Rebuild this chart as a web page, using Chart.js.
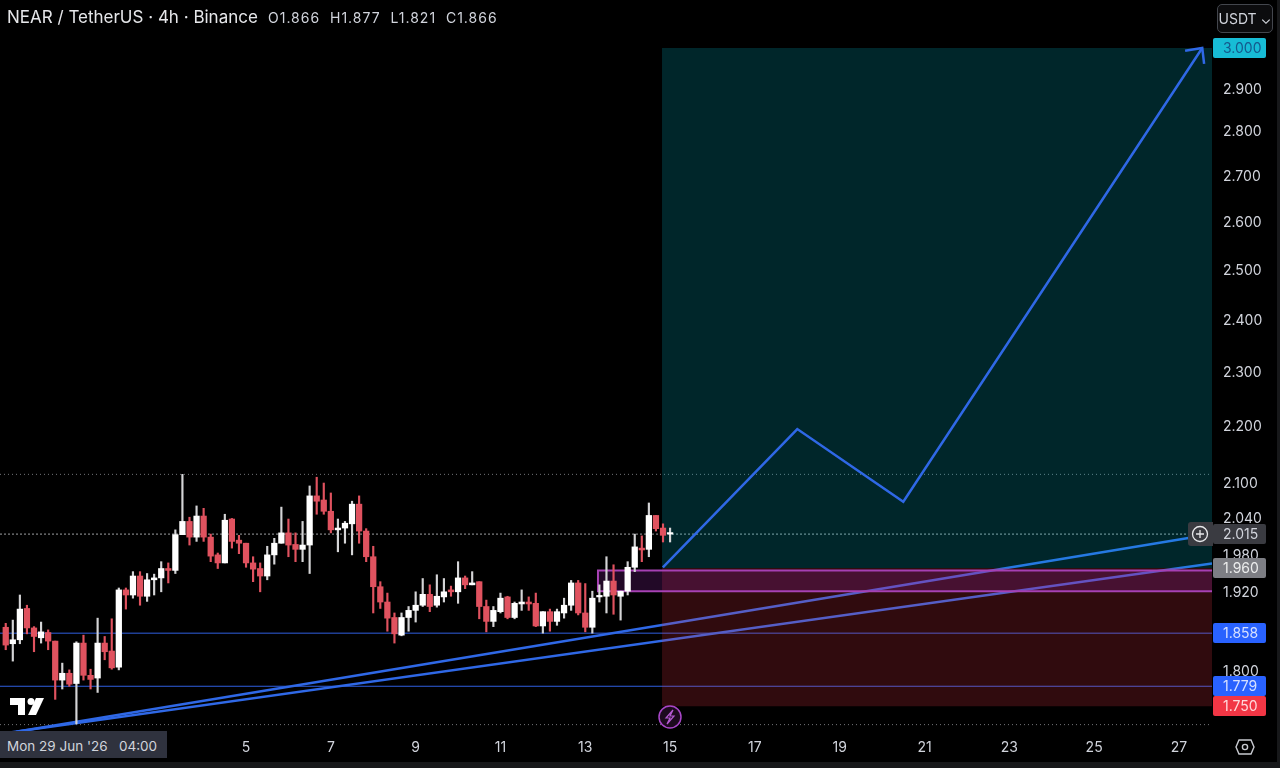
<!DOCTYPE html>
<html>
<head>
<meta charset="utf-8">
<title>NEAR / TetherUS</title>
<script src="https://cdn.jsdelivr.net/npm/chart.js@4/dist/chart.umd.js"></script>
<style>
  html, body { margin: 0; padding: 0; background: #17181a; width: 1280px; height: 768px; overflow: hidden; }
  body { position: relative; font-family: Inter, "Noto Sans", sans-serif; color: #d1d4dc; }
  #chart { position: absolute; left: 0; top: 0; background: #000; }
  .abs { position: absolute; white-space: pre; }
  #title { left: 7px; top: 7px; font-size: 17px; line-height: 21px; color: #e6e7ea; }
  #ohlc { left: 268px; top: 8px; font-size: 14px; line-height: 20px; letter-spacing: 1px; color: #d1d4dc; }
  #unit { left: 1217px; top: 4px; width: 54px; height: 27px; border: 1px solid #43464d; border-radius: 5px; background: #0c0c0e;
          font-size: 14px; line-height: 27px; text-align: center; }
  #cross { left: 0; top: 731px; width: 167px; height: 27px; background: #2f323e; font-size: 13.5px; line-height: 31px; text-indent: 7px; color: #d1d4dc; }
</style>
</head>
<body>
<canvas id="chart" width="1277" height="762"></canvas>
<div class="abs" id="title">NEAR / TetherUS · 4h · Binance</div>
<div class="abs" id="ohlc">O1.866  H1.877  L1.821  C1.866</div>
<div class="abs" id="unit">USDT ⌄</div>
<div class="abs" id="cross">Mon 29 Jun '26   04:00</div>
<!-- logo, lightning and settings icons -->
<svg class="abs" style="left:0;top:0" width="1280" height="768" fill="none">
  <path d="M10 698H25V715H18V705H10Z" fill="#fff"/>
  <circle cx="31" cy="701.5" r="3.5" fill="#fff"/>
  <path d="M36 698H44L36 715H28Z" fill="#fff"/>
  <circle cx="670" cy="717" r="11" stroke="#a846c8" stroke-width="1.5" fill="#1c0a1e"/>
  <path d="M673 710L666 718H670L667 724L674 716H670Z" stroke="#b45ad2" stroke-width="1.2"/>
  <path d="M1239 740H1251L1254 747L1251 754H1239L1236 747Z" stroke="#c8cad0" stroke-width="1.4"/>
  <circle cx="1245" cy="747" r="2.6" stroke="#c8cad0" stroke-width="1.4"/>
</svg>
<script>
// Candles, oldest first (4h bars, the last one sits on the 15th)
const opens  = [1.867,1.842,1.848,1.896,1.866,1.851,1.859,1.846,1.788,1.798,1.783,1.843,1.795,1.791,1.843,1.831,1.807,1.925,1.917,1.947,1.915,1.941,1.944,1.959,1.956,2.014,2.036,2.010,2.045,2.010,1.981,1.968,2.040,2.005,2.000,1.968,1.959,1.947,1.981,2.000,2.017,1.998,1.990,1.997,2.079,2.072,2.053,2.022,
                2.025,2.032,2.065,2.020,1.978,1.930,1.906,1.882,1.855,1.882,1.893,1.901,1.918,1.901,1.914,1.925,1.922,1.944,1.933,1.938,1.899,1.876,1.891,1.914,1.882,1.903,1.906,1.904,1.869,1.891,1.876,1.889,1.901,1.936,1.889,1.867,1.914,1.915,1.939,1.915,1.923,1.961,1.992,1.990,2.046,2.025,2.015];
const highs  = [1.873,1.878,1.917,1.901,1.868,1.875,1.863,1.846,1.813,1.803,1.845,1.855,1.804,1.881,1.853,1.880,1.928,1.928,1.954,1.954,1.951,1.950,1.970,1.968,2.022,2.116,2.043,2.062,2.058,2.015,1.984,2.048,2.041,2.013,2.000,1.978,1.968,1.995,2.008,2.060,2.040,2.017,2.036,2.096,2.111,2.101,2.084,2.040,
                2.036,2.070,2.079,2.024,1.995,1.938,1.920,1.889,1.889,1.899,1.922,1.943,1.933,1.949,1.943,1.931,1.970,1.947,1.954,1.938,1.909,1.899,1.920,1.915,1.906,1.925,1.914,1.920,1.891,1.895,1.895,1.912,1.940,1.940,1.935,1.923,1.933,1.978,1.965,1.923,1.970,2.015,2.012,2.067,2.046,2.032,2.025];
const lows   = [1.833,1.816,1.842,1.857,1.830,1.843,1.833,1.760,1.775,1.779,1.725,1.788,1.775,1.770,1.818,1.804,1.803,1.895,1.912,1.901,1.907,1.917,1.922,1.936,1.951,2.014,1.997,2.003,2.003,1.970,1.959,1.968,1.992,1.983,1.961,1.938,1.922,1.941,1.966,2.000,1.978,1.970,1.970,1.951,2.048,2.048,2.017,1.986,
                2.000,1.981,2.000,1.970,1.889,1.896,1.861,1.843,1.854,1.861,1.875,1.899,1.891,1.898,1.906,1.915,1.904,1.927,1.933,1.880,1.860,1.868,1.889,1.880,1.880,1.893,1.893,1.868,1.858,1.861,1.870,1.881,1.893,1.886,1.860,1.858,1.906,1.889,1.887,1.878,1.917,1.954,1.970,1.978,2.020,2.002,2.002];
const closes = [1.840,1.848,1.895,1.866,1.853,1.860,1.846,1.788,1.798,1.782,1.843,1.795,1.789,1.843,1.830,1.806,1.925,1.917,1.947,1.915,1.941,1.944,1.959,1.956,2.014,2.036,2.010,2.045,2.010,1.979,1.968,2.038,2.003,2.000,1.968,1.958,1.947,1.981,2.000,2.017,1.997,1.990,1.997,2.079,2.070,2.053,2.022,2.025,
                2.033,2.065,2.020,1.978,1.930,1.906,1.881,1.857,1.882,1.893,1.901,1.918,1.899,1.915,1.922,1.922,1.944,1.933,1.936,1.899,1.876,1.893,1.912,1.882,1.904,1.906,1.903,1.869,1.891,1.876,1.891,1.901,1.936,1.889,1.867,1.912,1.915,1.939,1.917,1.923,1.961,1.994,1.989,2.046,2.024,2.013,2.017];

// Axis labels
const dayTicks = [5, 7, 9, 11, 13, 15, 17, 19, 21, 23, 25, 27];
const priceTicks = [2.9, 2.8, 2.7, 2.6, 2.5, 2.4, 2.3, 2.2, 2.1, 2.04, 1.98, 1.92, 1.8];

// Price levels and drawings, x in days of the month, y in USDT
const sessionHigh = 2.116, sessionLow = 1.724, lastPrice = 2.015;
const support1 = 1.858, support2 = 1.779;
const trendA = [[-0.42, 1.714], [27.26, 2.009]];
const trendB = [[-0.566, 1.713], [27.78, 1.967]];
const projection = [[14.83, 1.961], [18.0, 2.196], [20.5, 2.069], [27.55, 3.0]];
const arrowHead = [[27.146, 2.993], [27.55, 3.0], [27.594, 2.961]];
const target = 3.0, entry = 1.96, stop = 1.75, boxStart = 14.81;
const zoneTop = 1.956, zoneBottom = 1.923, zoneStart = 13.3;

// Tags on the price axis
const tagValues = [3.0, 2.015, 1.96, 1.858, 1.779, 1.75];
const tagColors = ['#17bcd6', '#3a3b41', '#7d7e84', '#2962ff', '#2962ff', '#f23645'];
const tagTexts  = ['#14598c', '#d1d4dc', '#eceded', '#d6e0ff', '#d6e0ff', '#ffd9dc'];

const xMin = -0.802, xMax = 27.78;
const yMin = 1.7122, yMax = 3.1201;
const candleDays = opens.map((_, i) => 15 - (opens.length - 1 - i) / 6);
const toPoints = pts => pts.map(p => ({ x: p[0], y: p[1] }));
const level = v => [{ x: xMin, y: v }, { x: xMax, y: v }];

function lineSet(data, color, width, order, dash) {
  return { type: 'line', data, borderColor: color, borderWidth: width, borderDash: dash || [],
           pointRadius: 0, fill: false, tension: 0, order };
}
function boxSet(x0, top, bottom, color, order) {
  return { type: 'line', data: [{ x: x0, y: top }, { x: xMax, y: top }], borderWidth: 0, borderColor: 'transparent',
           backgroundColor: color, pointRadius: 0, fill: { value: bottom }, order };
}

// Price tags and the + button, over the axis labels
const priceTags = {
  id: 'priceTags',
  afterDraw(chart) {
    const { ctx } = chart;
    const y = chart.scales.y;
    ctx.save();
    ctx.font = '14px Inter, "Noto Sans", sans-serif';
    ctx.textBaseline = 'middle';
    tagValues.forEach((v, i) => {
      const py = Math.round(y.getPixelForValue(v));
      ctx.fillStyle = tagColors[i];
      ctx.beginPath();
      ctx.roundRect(1213, py - 10, 53, 20, 2);
      ctx.fill();
      ctx.fillStyle = tagTexts[i];
      ctx.textAlign = 'left';
      ctx.fillText(v.toFixed(3), 1223, py + 0.5);
    });
    // + button on the last price line
    const py = Math.round(y.getPixelForValue(lastPrice));
    ctx.fillStyle = '#3a3b41';
    ctx.beginPath();
    ctx.roundRect(1188, py - 12, 25, 24, [3, 0, 0, 3]);
    ctx.fill();
    ctx.strokeStyle = '#e8e9ec';
    ctx.lineWidth = 1.3;
    ctx.beginPath();
    ctx.arc(1200, py, 7.5, 0, Math.PI * 2);
    ctx.moveTo(1196, py); ctx.lineTo(1204, py);
    ctx.moveTo(1200, py - 4); ctx.lineTo(1200, py + 4);
    ctx.stroke();
    ctx.restore();
  }
};

new Chart(document.getElementById('chart').getContext('2d'), {
  type: 'bar',
  data: {
    datasets: [
      // bodies, then wicks, on top of everything but the projection
      { type: 'bar', data: candleDays.map((d, i) => ({ x: d, y: [opens[i], closes[i]] })),
        backgroundColor: closes.map((c, i) => c >= opens[i] ? '#ffffff' : '#e0525f'),
        barThickness: 5.6, minBarLength: 1.5, grouped: false, order: 2 },
      { type: 'bar', data: candleDays.map((d, i) => ({ x: d, y: [lows[i], highs[i]] })),
        backgroundColor: closes.map((c, i) => c >= opens[i] ? '#d4d4d6' : '#e0525f'),
        barThickness: 1.5, grouped: false, order: 3 },
      lineSet(toPoints(projection), '#2f68e6', 2.5, 1),
      lineSet(toPoints(arrowHead), '#2f68e6', 2.5, 1),
      boxSet(zoneStart, zoneTop, zoneBottom, 'rgba(156, 39, 176, 0.22)', 4),
      lineSet([{ x: xMax, y: zoneTop }, { x: zoneStart, y: zoneTop }, { x: zoneStart, y: zoneBottom }, { x: xMax, y: zoneBottom }], '#a844b4', 2, 4),
      boxSet(boxStart, target, entry, 'rgba(0, 188, 212, 0.2)', 5),
      boxSet(boxStart, entry, stop, 'rgba(242, 54, 69, 0.2)', 5),
      lineSet(toPoints(trendA), '#2f68e6', 2.5, 6),
      lineSet(toPoints(trendB), '#2f68e6', 2.5, 6),
      lineSet(level(support1), '#2f5fe0', 1, 6),
      lineSet(level(support2), '#2f5fe0', 1, 6),
      lineSet(level(sessionHigh), 'rgba(210, 212, 220, 0.55)', 1, 7, [1, 3]),
      lineSet(level(sessionLow), 'rgba(210, 212, 220, 0.55)', 1, 7, [1, 3]),
      lineSet(level(lastPrice), 'rgba(225, 226, 232, 0.7)', 1, 7, [2, 2])
    ]
  },
  options: {
    responsive: false,
    animation: false,
    layout: { padding: 0 },
    plugins: { legend: { display: false }, title: { display: false }, tooltip: { enabled: false } },
    scales: {
      x: {
        type: 'linear', min: xMin, max: xMax, offset: false, bounds: 'data',
        grid: { display: false, drawTicks: false }, border: { display: false },
        afterBuildTicks: s => { s.ticks = dayTicks.map(v => ({ value: v })); },
        afterFit: s => { s.height = 29; s.paddingLeft = 0; s.paddingRight = 0; },
        ticks: { color: '#d1d4dc', font: { family: 'Inter', size: 14 }, padding: 6, maxRotation: 0, autoSkip: false, callback: v => String(v) }
      },
      y: {
        type: 'logarithmic', position: 'right', min: yMin, max: yMax, bounds: 'data',
        grid: { display: false, drawTicks: false }, border: { display: false },
        afterBuildTicks: s => { s.ticks = priceTicks.map(v => ({ value: v })); },
        afterFit: s => { s.width = 65; s.paddingTop = 0; s.paddingBottom = 0; },
        ticks: { color: '#d1d4dc', font: { family: 'Inter', size: 14 }, padding: 11, autoSkip: false, callback: v => v.toFixed(3) }
      }
    }
  },
  plugins: [priceTags]
});
</script>
</body>
</html>
